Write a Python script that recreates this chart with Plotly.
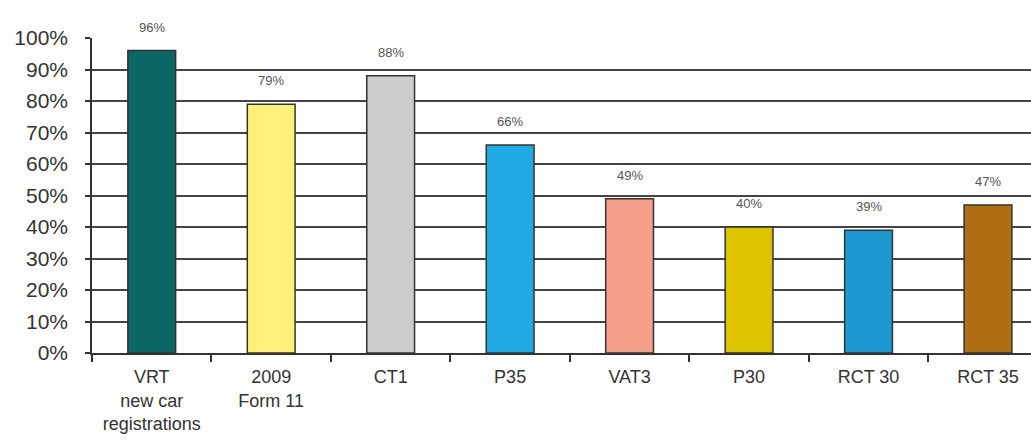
import plotly.graph_objects as go

categories = ["VRT<br>new car<br>registrations", "2009<br>Form 11", "CT1", "P35", "VAT3", "P30", "RCT 30", "RCT 35"]
values = [96, 79, 88, 66, 49, 40, 39, 47]
labels = ["96%", "79%", "88%", "66%", "49%", "40%", "39%", "47%"]
colors = ["#0B6665", "#FFF07A", "#CCCCCC", "#21A9E1", "#F5A08A", "#DCC400", "#1E98D0", "#B06E15"]
y_ticks = [0, 10, 20, 30, 40, 50, 60, 70, 80, 90, 100]
y_tick_labels = ["0%", "10%", "20%", "30%", "40%", "50%", "60%", "70%", "80%", "90%", "100%"]

fig = go.Figure()
fig.add_trace(go.Bar(
    x=categories, y=values,
    marker=dict(color=colors, line=dict(color="#333333", width=1.5)),
    width=0.4, showlegend=False, hoverinfo="skip",
))
for c, v, t in zip(categories, values, labels):
    fig.add_annotation(x=c, y=v, text=t, showarrow=False, yanchor="bottom", yshift=14,
                       font=dict(family="Liberation Sans, Arial", size=13, color="#555555"))

fig.update_layout(
    width=1031, height=446,
    margin=dict(l=92, r=0, t=38, b=93),
    paper_bgcolor="white", plot_bgcolor="white",
    font=dict(family="Liberation Sans, Arial", color="#333333"),
    bargap=0.6,
)
fig.update_xaxes(
    type="category", range=[-0.5, 7.36], tickson="boundaries",
    ticks="outside", ticklen=7, tickcolor="#333333", tickwidth=1.5,
    showgrid=False, showline=True, linecolor="#333333", linewidth=1.5,
    tickfont=dict(size=18, color="#333333"), tickangle=0, ticklabelstandoff=7,
)
fig.update_yaxes(
    range=[0, 100], tickvals=y_ticks, ticktext=y_tick_labels,
    ticks="outside", ticklen=5, tickcolor="#333333", tickwidth=1.5,
    showgrid=True, gridcolor="#444444", gridwidth=1.5,
    showline=True, linecolor="#333333", linewidth=1.5, mirror=False,
    tickfont=dict(size=21, color="#333333"), ticklabelstandoff=13,
    zeroline=False,
)
fig.write_html("out.html")
